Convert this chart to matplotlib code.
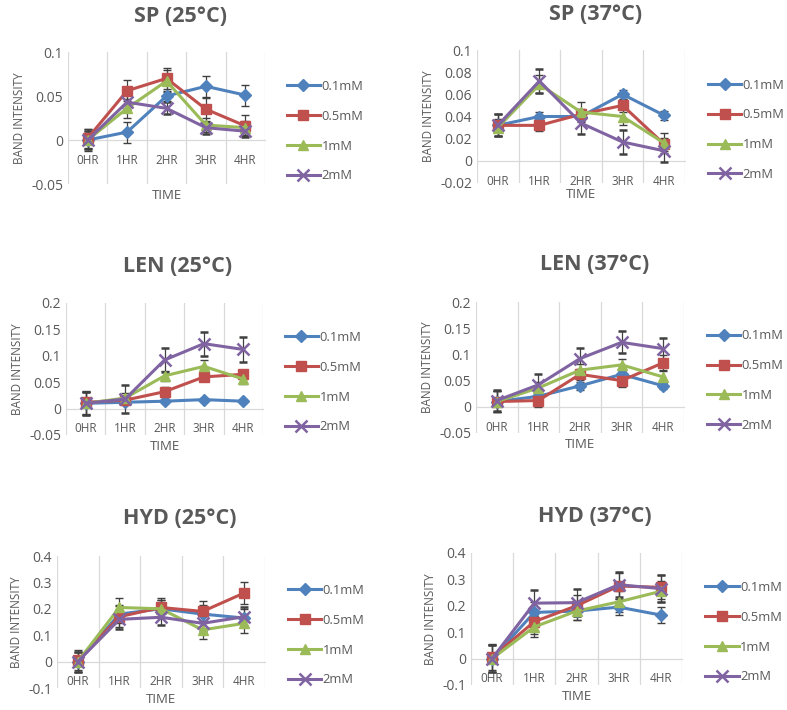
import matplotlib
matplotlib.use("Agg")
import matplotlib.pyplot as plt
from matplotlib.lines import Line2D

plt.rcParams['font.family'] = ['Open Sans', 'DejaVu Sans']

horas = ["0HR", "1HR", "2HR", "3HR", "4HR"]
series = ["0.1mM", "0.5mM", "1mM", "2mM"]

# SP 25
sp25 = {
    "0.1mM": [0.000, 0.009, 0.050, 0.061, 0.051],
    "0.5mM": [0.002, 0.056, 0.070, 0.035, 0.016],
    "1mM":   [0.000, 0.036, 0.067, 0.017, 0.014],
    "2mM":   [0.000, 0.043, 0.036, 0.014, 0.010],
}
sp25_err = {
    "0.1mM": [0.012, 0.012, 0.006, 0.012, 0.012],
    "0.5mM": [0.011, 0.012, 0.012, 0.013, 0.012],
    "1mM":   [0.010, 0.011, 0.012, 0.008, 0.008],
    "2mM":   [0.010, 0.008, 0.007, 0.007, 0.007],
}
# SP 37
sp37 = {
    "0.1mM": [0.032, 0.040, 0.040, 0.060, 0.041],
    "0.5mM": [0.032, 0.032, 0.042, 0.050, 0.015],
    "1mM":   [0.030, 0.069, 0.044, 0.040, 0.016],
    "2mM":   [0.032, 0.072, 0.034, 0.017, 0.009],
}
sp37_err = {
    "0.1mM": [0.010, 0.004, 0.004, 0.004, 0.004],
    "0.5mM": [0.010, 0.005, 0.005, 0.006, 0.006],
    "1mM":   [0.008, 0.008, 0.009, 0.008, 0.009],
    "2mM":   [0.010, 0.011, 0.010, 0.011, 0.010],
}
# LEN 25
len25 = {
    "0.1mM": [0.010, 0.012, 0.014, 0.017, 0.014],
    "0.5mM": [0.012, 0.016, 0.032, 0.060, 0.065],
    "1mM":   [0.010, 0.020, 0.062, 0.080, 0.056],
    "2mM":   [0.010, 0.018, 0.092, 0.123, 0.112],
}
len25_err = {
    "0.1mM": [0.022, 0.004, 0.003, 0.003, 0.003],
    "0.5mM": [0.022, 0.008, 0.008, 0.008, 0.008],
    "1mM":   [0.022, 0.010, 0.010, 0.012, 0.010],
    "2mM":   [0.022, 0.026, 0.023, 0.023, 0.023],
}
# LEN 37
len37 = {
    "0.1mM": [0.010, 0.020, 0.040, 0.062, 0.040],
    "0.5mM": [0.010, 0.012, 0.062, 0.050, 0.084],
    "1mM":   [0.010, 0.036, 0.070, 0.080, 0.057],
    "2mM":   [0.012, 0.042, 0.092, 0.123, 0.111],
}
len37_err = {
    "0.1mM": [0.020, 0.006, 0.008, 0.010, 0.006],
    "0.5mM": [0.020, 0.012, 0.010, 0.012, 0.014],
    "1mM":   [0.020, 0.012, 0.012, 0.012, 0.012],
    "2mM":   [0.020, 0.021, 0.021, 0.021, 0.021],
}
# HYD 25
hyd25 = {
    "0.1mM": [0.000, 0.180, 0.200, 0.180, 0.165],
    "0.5mM": [0.005, 0.170, 0.205, 0.190, 0.260],
    "1mM":   [0.000, 0.205, 0.200, 0.120, 0.145],
    "2mM":   [0.000, 0.160, 0.168, 0.145, 0.170],
}
hyd25_err = {
    "0.1mM": [0.038, 0.035, 0.035, 0.035, 0.035],
    "0.5mM": [0.038, 0.040, 0.035, 0.040, 0.042],
    "1mM":   [0.038, 0.035, 0.035, 0.035, 0.035],
    "2mM":   [0.038, 0.035, 0.030, 0.030, 0.035],
}
# HYD 37
hyd37 = {
    "0.1mM": [0.000, 0.175, 0.180, 0.195, 0.165],
    "0.5mM": [0.005, 0.140, 0.200, 0.275, 0.270],
    "1mM":   [0.000, 0.120, 0.180, 0.215, 0.255],
    "2mM":   [0.000, 0.210, 0.212, 0.280, 0.265],
}
hyd37_err = {
    "0.1mM": [0.050, 0.040, 0.035, 0.030, 0.032],
    "0.5mM": [0.050, 0.045, 0.040, 0.050, 0.045],
    "1mM":   [0.050, 0.040, 0.035, 0.040, 0.040],
    "2mM":   [0.050, 0.050, 0.050, 0.048, 0.050],
}

colores = {"0.1mM": "#4F81BD", "0.5mM": "#C0504D", "1mM": "#9BBB59", "2mM": "#8064A2"}
marcas = {"0.1mM": "D", "0.5mM": "s", "1mM": "^", "2mM": "x"}
tam = {"0.1mM": 6, "0.5mM": 7.5, "1mM": 7.5, "2mM": 8}

gris = "#595959"
grid_c = "#D9D9D9"

fig = plt.figure(figsize=(7.87, 7.10), dpi=100)

def px(x0, y0, x1, y1):
    W, H = 787.0, 710.0
    return [x0 / W, 1 - y1 / H, (x1 - x0) / W, (y1 - y0) / H]

def panel(rect, datos, errores, titulo, ylim, yticks, titulo_xy):
    ax = fig.add_axes(px(*rect))
    x = list(range(len(horas)))
    handles = []
    for s in series:
        ax.errorbar(x, datos[s], yerr=errores[s], color=colores[s], lw=2.2,
                    marker=marcas[s], ms=tam[s], mew=1.8 if s == "2mM" else 1,
                    ecolor="#404040", elinewidth=0.9, capsize=3, capthick=0.9,
                    zorder=3)
        handles.append(Line2D([], [], color=colores[s], lw=2.2, marker=marcas[s],
                              ms=tam[s], mew=1.8 if s == "2mM" else 1, label=s))
    ax.set_xlim(-0.5, len(horas) - 0.5)
    ax.set_ylim(*ylim)
    ax.set_yticks(yticks)
    ax.set_yticklabels(["0" if v == 0 else "%g" % v for v in yticks])
    ax.set_xticks(x)
    ax.set_xticklabels(horas)
    for b in range(len(horas) + 1):
        ax.axvline(b - 0.5, color=grid_c, lw=0.9, zorder=1)
    ax.spines['top'].set_visible(False)
    ax.spines['right'].set_visible(False)
    ax.spines['left'].set_visible(False)
    ax.spines['bottom'].set_position(('data', 0))
    ax.spines['bottom'].set_color(grid_c)
    ax.spines['bottom'].set_linewidth(0.9)
    ax.tick_params(axis='both', length=0, colors=gris, labelsize=10)
    ax.tick_params(axis='x', pad=10, labelsize=8.5)
    ax.set_ylabel("BAND INTENSITY", color=gris, fontsize=8.5, labelpad=4)
    ax.set_xlabel("TIME", color=gris, fontsize=9.5)
    ax.xaxis.set_label_coords(0.5, -0.035)
    fig.text(titulo_xy[0] / 787.0, 1 - titulo_xy[1] / 710.0, titulo,
             ha='center', va='center', fontsize=15.5, fontweight='bold', color=gris)
    leg = ax.legend(handles=handles, loc='center left', bbox_to_anchor=(1.11, 0.40),
                    frameon=False, fontsize=9.3, handlelength=2.6, handletextpad=0.1,
                    labelspacing=1.3, borderpad=0, borderaxespad=0)
    for t in leg.get_texts():
        t.set_color(gris)
    return ax

panel((68, 52, 265, 184), sp25, sp25_err, "SP (25°C)", (-0.05, 0.1),
      [-0.05, 0, 0.05, 0.1], (180, 17))
panel((477, 50, 685, 183), sp37, sp37_err, "SP (37°C)", (-0.02, 0.1),
      [-0.02, 0, 0.02, 0.04, 0.06, 0.08, 0.1], (596, 15))
panel((66, 303, 263, 435), len25, len25_err, "LEN (25°C)", (-0.05, 0.2),
      [-0.05, 0, 0.05, 0.1, 0.15, 0.2], (178, 267))
panel((476, 302, 684, 433), len37, len37_err, "LEN (37°C)", (-0.05, 0.2),
      [-0.05, 0, 0.05, 0.1, 0.15, 0.2], (595, 265))
panel((57, 556, 265, 688), hyd25, hyd25_err, "HYD (25°C)", (-0.1, 0.4),
      [-0.1, 0, 0.1, 0.2, 0.3, 0.4], (180, 518))
panel((471, 553, 682, 685), hyd37, hyd37_err, "HYD (37°C)", (-0.1, 0.4),
      [-0.1, 0, 0.1, 0.2, 0.3, 0.4], (595, 517))

fig.savefig("out.png", dpi=100)
